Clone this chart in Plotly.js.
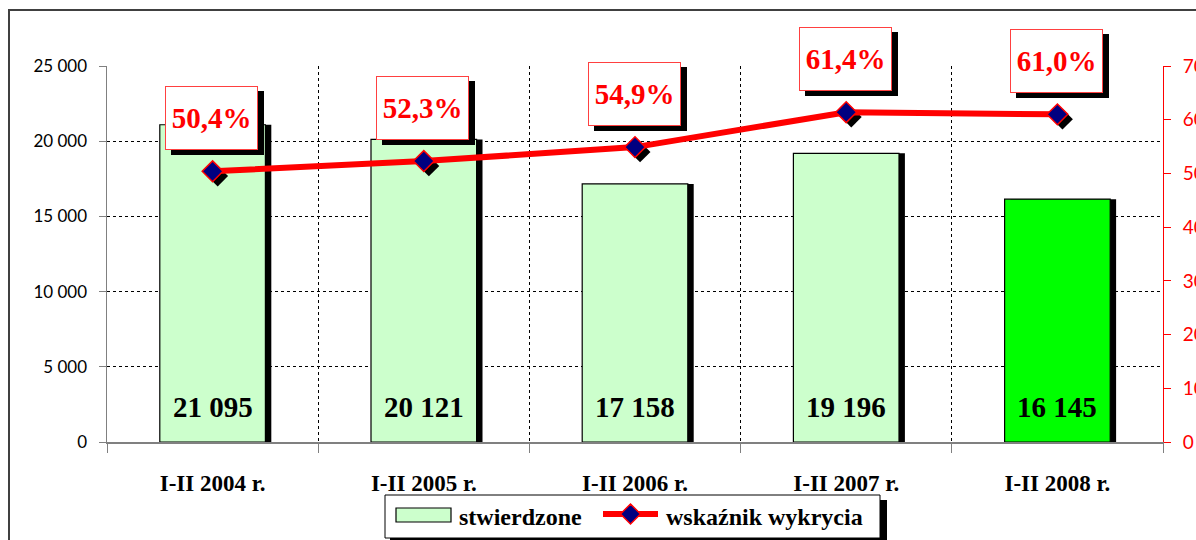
<!DOCTYPE html>
<html>
<head>
<meta charset="utf-8">
<script src="https://cdn.plot.ly/plotly-3.0.1.min.js"></script>
<style>html,body{margin:0;padding:0;background:#fff;}#chart{width:1196px;height:540px;}</style>
</head>
<body>
<div id="chart"></div>
<script>
// ---- data ----
var categories = ['I-II 2004 r.', 'I-II 2005 r.', 'I-II 2006 r.', 'I-II 2007 r.', 'I-II 2008 r.'];
var stwierdzone = [21095, 20121, 17158, 19196, 16145];
var wskaznik = [50.4, 52.3, 54.9, 61.4, 61.0];
var leftTicks = [0, 5000, 10000, 15000, 20000, 25000];
var rightTicks = [0, 10, 20, 30, 40, 50, 60, 70];
var seriesNames = ['stwierdzone', 'wskaźnik wykrycia'];

// ---- helpers ----
var idx = categories.map(function(c, i){ return i; });
function fmtInt(v){ return String(v).replace(/\B(?=(\d{3})+(?!\d))/g, ' '); }
function fmtPct(v){ return v.toFixed(1).replace('.', ',') + '%'; }

var W = 1196, H = 540, L = 107, R = 33, T = 66, B = 98;
var PW = W - L - R, PH = H - T - B;
function px(x){ return (x - L) / PW; }
function py(y){ return (H - B - y) / PH; }

var serif = 'Liberation Serif, Times New Roman, serif';
var barColors = idx.map(function(i){ return i === idx.length - 1 ? '#00FF00' : '#CCFFCC'; });

var traces = [
  { type: 'bar', x: idx, y: stwierdzone, width: 0.5, offset: -0.25 + 0.028,
    marker: { color: '#000000' }, showlegend: false, hoverinfo: 'skip', yaxis: 'y' },
  { type: 'bar', name: seriesNames[0], x: idx, y: stwierdzone, width: 0.5, offset: -0.25,
    marker: { color: barColors, line: { color: '#000000', width: 1.2 } }, showlegend: false, yaxis: 'y' },
  { type: 'scatter', mode: 'markers', x: idx.map(function(i){ return i + 0.024; }),
    y: wskaznik.map(function(v){ return v - 0.9; }), yaxis: 'y2',
    marker: { symbol: 'diamond', size: 16, color: '#000000' }, showlegend: false, hoverinfo: 'skip' },
  { type: 'scatter', mode: 'lines+markers', name: seriesNames[1], x: idx, y: wskaznik, yaxis: 'y2',
    line: { color: '#FF0000', width: 6 },
    marker: { symbol: 'diamond', size: 16, color: '#000080', line: { color: '#FF0000', width: 1.5 } },
    showlegend: false }
];

var annotations = [];
idx.forEach(function(i){
  annotations.push({ x: i, y: 0, xref: 'x', yref: 'y', yanchor: 'bottom', yshift: 17, showarrow: false,
    text: fmtInt(stwierdzone[i]), font: { family: serif, size: 29, color: '#000000', weight: 'bold' } });
});
idx.forEach(function(i){
  annotations.push({ x: i, y: wskaznik[i], xref: 'x', yref: 'y2', xshift: 5, yshift: 48, showarrow: false,
    text: '&nbsp;', width: 89, height: 60, borderpad: 1, borderwidth: 1,
    bgcolor: '#000000', bordercolor: '#000000', font: { family: serif, size: 29, color: '#000000' } });
  annotations.push({ x: i, y: wskaznik[i], xref: 'x', yref: 'y2', xshift: -1, yshift: 53, showarrow: false,
    text: fmtPct(wskaznik[i]), width: 89, height: 60, borderpad: 1, borderwidth: 1,
    bgcolor: '#FFFFFF', bordercolor: '#FF4040', font: { family: serif, size: 29, color: '#FF0000', weight: 'bold' } });
});
// legend texts
annotations.push({ xref: 'paper', yref: 'paper', x: px(457), y: py(517), xanchor: 'left', yanchor: 'middle',
  showarrow: false, text: seriesNames[0], font: { family: serif, size: 24, color: '#000000', weight: 'bold' } });
annotations.push({ xref: 'paper', yref: 'paper', x: px(664), y: py(517), xanchor: 'left', yanchor: 'middle',
  showarrow: false, text: seriesNames[1], font: { family: serif, size: 24, color: '#000000', weight: 'bold' } });

var shapes = [
  // outer frame
  { type: 'rect', xref: 'paper', yref: 'paper', x0: px(9), x1: px(1230), y0: py(580), y1: py(10),
    line: { color: '#404040', width: 2 }, fillcolor: 'rgba(0,0,0,0)', layer: 'below' },
  // legend shadow + box
  { type: 'rect', xref: 'paper', yref: 'paper', x0: px(390), x1: px(887), y0: py(545), y1: py(500),
    line: { width: 0 }, fillcolor: '#000000' },
  { type: 'rect', xref: 'paper', yref: 'paper', x0: px(385), x1: px(880), y0: py(538), y1: py(495),
    line: { color: '#000000', width: 1 }, fillcolor: '#FFFFFF' },
  // legend swatches
  { type: 'rect', xref: 'paper', yref: 'paper', x0: px(396), x1: px(451), y0: py(522), y1: py(508),
    line: { color: '#000000', width: 1.2 }, fillcolor: '#CCFFCC' },
  { type: 'line', xref: 'paper', yref: 'paper', x0: px(603), x1: px(658), y0: py(514), y1: py(514),
    line: { color: '#FF0000', width: 6 } },
  { type: 'path', xref: 'paper', yref: 'paper', xsizemode: 'pixel', ysizemode: 'pixel',
    xanchor: px(630.5), yanchor: py(514), path: 'M-10,0 L0,10 L10,0 L0,-10 Z',
    fillcolor: '#000080', line: { color: '#FF0000', width: 1.5 } }
];

var layout = {
  width: W, height: H,
  margin: { l: L, r: R, t: T, b: B, pad: 0 },
  paper_bgcolor: '#FFFFFF', plot_bgcolor: '#FFFFFF',
  separators: ', ',
  barmode: 'overlay',
  showlegend: false,
  xaxis: {
    type: 'linear', range: [-0.5, categories.length - 0.5],
    tickmode: 'array', tickvals: idx, ticktext: categories,
    ticks: '', showgrid: false, zeroline: false,
    showline: true, linecolor: '#808080', linewidth: 1.5,
    ticklabelstandoff: 20,
    tickfont: { family: serif, size: 23, color: '#000000', weight: 'bold' },
    minor: { tickmode: 'linear', tick0: 0.5, dtick: 1, ticks: 'outside', ticklen: 9,
      tickcolor: '#808080', showgrid: true, gridcolor: '#000000', griddash: 'dot', gridwidth: 1 }
  },
  yaxis: {
    range: [0, 25000], tickmode: 'array', tickvals: leftTicks,
    tickformat: ',d', separatethousands: true,
    ticks: 'outside', ticklen: 7, tickcolor: '#808080',
    showline: true, linecolor: '#808080', linewidth: 1.5, zeroline: false,
    showgrid: true, gridcolor: '#000000', griddash: 'dot', gridwidth: 1,
    ticklabelstandoff: 8,
    tickfont: { family: 'Lato, Open Sans, sans-serif', size: 17, color: '#000000' }
  },
  yaxis2: {
    overlaying: 'y', side: 'right', range: [0, 70], tickmode: 'array', tickvals: rightTicks,
    ticks: 'outside', ticklen: 7, tickcolor: '#FF0000',
    showline: true, linecolor: '#FF0000', linewidth: 1, zeroline: false, showgrid: false,
    ticklabelstandoff: 8,
    tickfont: { family: 'Lato, Open Sans, sans-serif', size: 19, color: '#FF0000' }
  },
  annotations: annotations,
  shapes: shapes
};

Plotly.newPlot('chart', traces, layout, { staticPlot: true, displayModeBar: false });
</script>
</body>
</html>
